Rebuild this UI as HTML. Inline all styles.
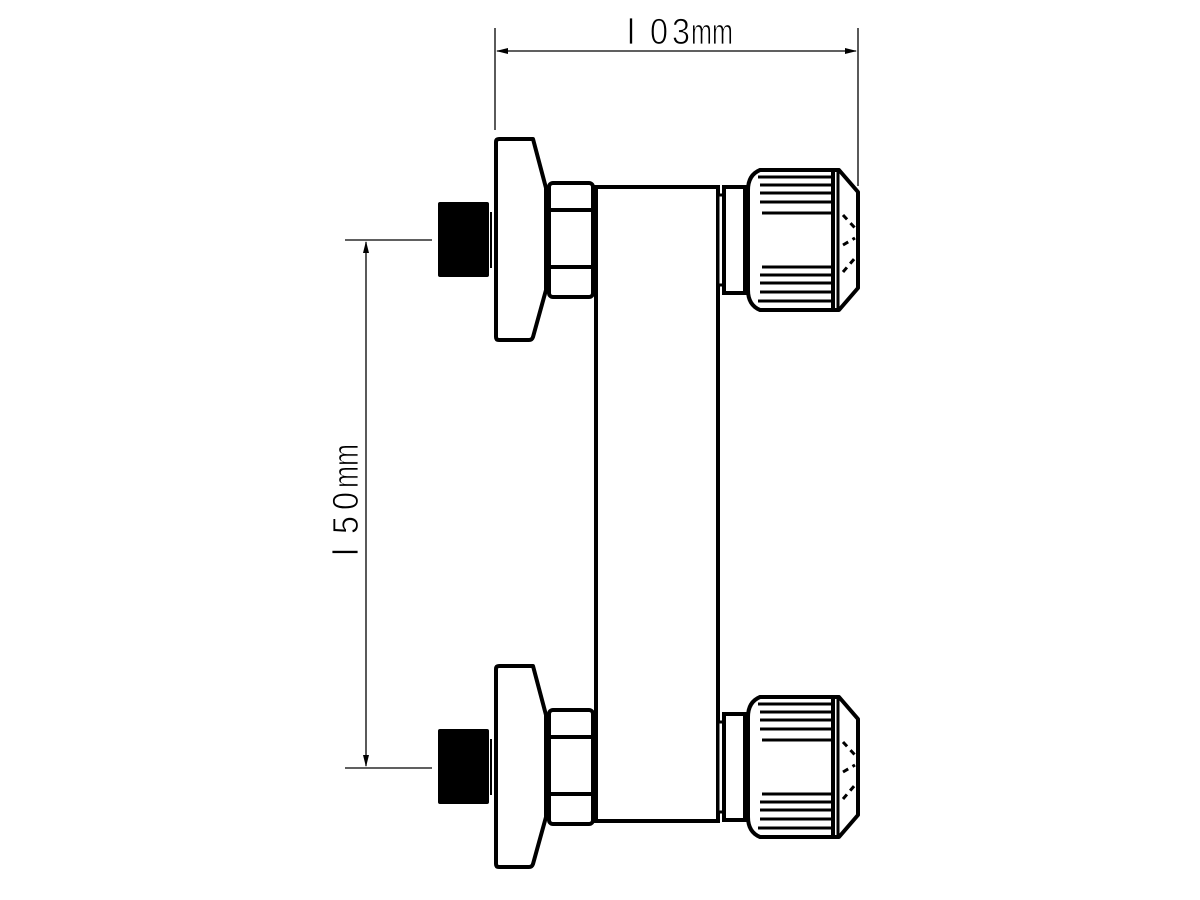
<!DOCTYPE html>
<html><head><meta charset="utf-8"><style>html,body{margin:0;padding:0;background:#fff}svg{display:block}</style></head>
<body>
<svg width="1200" height="900" viewBox="0 0 1200 900" xmlns="http://www.w3.org/2000/svg">
<defs>
<g id="unit">
  <rect x="438" y="202" width="51" height="75" fill="#000" rx="2"/>
  <line x1="491" y1="212" x2="491" y2="268" stroke="#000" stroke-width="2"/>
  <path d="M496,142 Q496,139 499,139 L533,139 L546,188 L546,290 L533,337 Q532,340 529,340 L499,340 Q496,340 496,337 Z" fill="#fff" stroke="#000" stroke-width="4" stroke-linejoin="round"/>
  <rect x="549" y="183" width="44" height="114" rx="4" fill="#fff" stroke="#000" stroke-width="4"/>
  <line x1="549" y1="210" x2="593" y2="210" stroke="#000" stroke-width="4"/>
  <line x1="549" y1="267" x2="593" y2="267" stroke="#000" stroke-width="4"/>
  <rect x="718" y="195" width="6" height="90" fill="#fff" stroke="#000" stroke-width="3"/>
  <rect x="724" y="187" width="21" height="106" fill="#fff" stroke="#000" stroke-width="4"/>
  <path d="M760,170 L833,170 L833,310 L760,310 Q748,305 748,290 L748,190 Q748,175 760,170 Z" fill="#fff" stroke="#000" stroke-width="4"/>
  <g stroke="#000" stroke-width="3">
    <line x1="758" y1="177" x2="832" y2="177"/>
    <line x1="760" y1="185" x2="832" y2="185"/>
    <line x1="760" y1="193" x2="832" y2="193"/>
    <line x1="760" y1="202" x2="832" y2="202"/>
    <line x1="762" y1="213" x2="832" y2="213"/>
    <line x1="762" y1="267" x2="832" y2="267"/>
    <line x1="760" y1="275" x2="832" y2="275"/>
    <line x1="760" y1="283" x2="832" y2="283"/>
    <line x1="760" y1="292" x2="832" y2="292"/>
    <line x1="758" y1="301" x2="832" y2="301"/>
  </g>
  <line x1="838" y1="172" x2="838" y2="308" stroke="#000" stroke-width="3"/>
  <path d="M833,170 L839,170 L858,192 L858,288 L839,310 L833,310" fill="none" stroke="#000" stroke-width="4" stroke-linejoin="round"/>
  <g stroke="#000" stroke-width="3" stroke-dasharray="6,5">
    <line x1="843" y1="215" x2="855" y2="228"/>
    <line x1="843" y1="245" x2="855" y2="238"/>
    <line x1="843" y1="272" x2="855" y2="258"/>
  </g>
</g>
</defs>
<rect x="596" y="187" width="122" height="634" fill="#fff" stroke="#000" stroke-width="4"/>
<use href="#unit"/>
<use href="#unit" transform="translate(0,527)"/>
<g stroke="#000" stroke-width="1.3" fill="none">
  <line x1="495" y1="28" x2="495" y2="130"/>
  <line x1="858" y1="28" x2="858" y2="186"/>
  <line x1="497" y1="51" x2="856" y2="51"/>
  <line x1="345" y1="240" x2="432" y2="240"/>
  <line x1="345" y1="768" x2="432" y2="768"/>
  <line x1="366" y1="242" x2="366" y2="766"/>
</g>
<path d="M496,51 L508,48 L508,54 Z" fill="#000"/>
<path d="M857,51 L845,48 L845,54 Z" fill="#000"/>
<path d="M366,241 L363,253 L369,253 Z" fill="#000"/>
<path d="M366,767 L363,755 L369,755 Z" fill="#000"/>
<g font-family="Liberation Sans Narrow, Liberation Sans, sans-serif" font-size="36" fill="#000" stroke="#fff" stroke-width="0.8" paint-order="normal">
  <text x="627" y="44" textLength="8" lengthAdjust="spacingAndGlyphs">l</text>
  <text x="650" y="44" textLength="18" lengthAdjust="spacingAndGlyphs">0</text>
  <text x="672" y="44" textLength="18" lengthAdjust="spacingAndGlyphs">3</text>
  <text x="691" y="44" textLength="42" lengthAdjust="spacingAndGlyphs">mm</text>
  <g transform="translate(358,556) rotate(-90)">
    <text x="0" y="0" textLength="8" lengthAdjust="spacingAndGlyphs">l</text>
    <text x="22" y="0" textLength="18" lengthAdjust="spacingAndGlyphs">5</text>
    <text x="46" y="0" textLength="18" lengthAdjust="spacingAndGlyphs">0</text>
    <text x="68" y="0" textLength="44" lengthAdjust="spacingAndGlyphs">mm</text>
  </g>
</g>
</svg>
</body></html>
